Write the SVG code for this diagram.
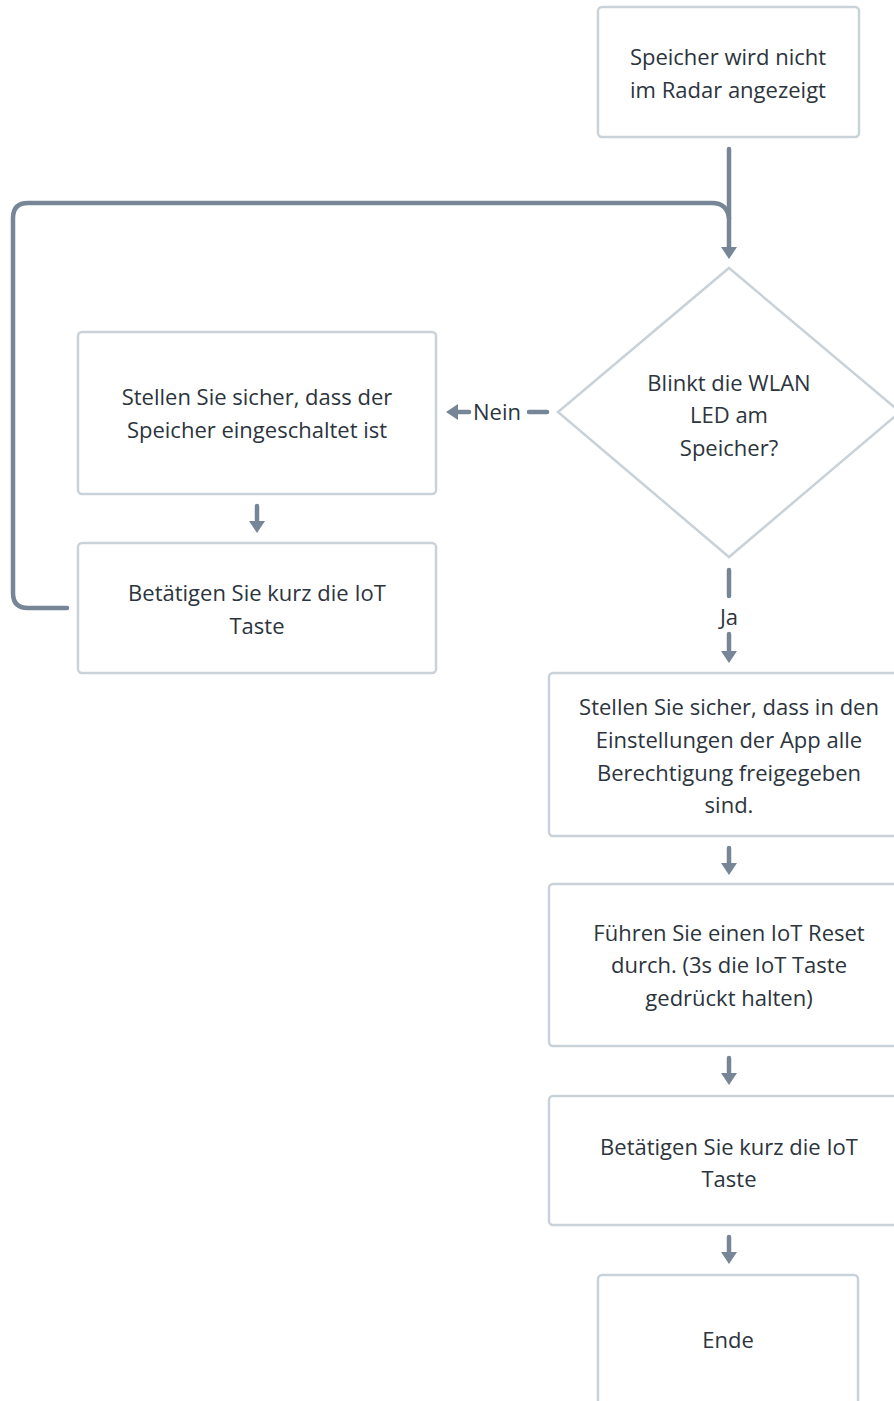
<svg xmlns="http://www.w3.org/2000/svg" width="894" height="1401" viewBox="0 0 894 1401">
<style>
.box{fill:#ffffff;stroke:#c9d1d9;stroke-width:2.5}
.t{font-family:"Open Sans","DejaVu Sans",sans-serif;font-size:22px;fill:#2c343d;text-anchor:middle}
.c{fill:none;stroke:#768696;stroke-width:4.5;stroke-linecap:round;stroke-linejoin:round}
</style>
<defs>
<marker id="ah" viewBox="0 -8 12 16" refX="0" refY="0" markerWidth="12" markerHeight="16" orient="auto" markerUnits="userSpaceOnUse">
<path d="M0,-8 L12,0 L0,8 z" fill="#768696"/>
</marker>
</defs>
<rect width="894" height="1401" fill="#ffffff"/>
<g id="connectors">
<path class="c" d="M729,149 L729,247" marker-end="url(#ah)"/>
<path class="c" d="M67,608 L28,608 Q13,608 13,593 L13,218 Q13,203 28,203 L712,203 Q727,203 729,218" />
<path class="c" d="M257,506 L257,521" marker-end="url(#ah)"/>
<path class="c" d="M547,412 L529,412"/>
<path class="c" d="M469,412 L458,412" marker-end="url(#ah)"/>
<text class="t" x="497" y="420">Nein</text>
<path class="c" d="M729,570 L729,596"/>
<text class="t" x="729" y="625">Ja</text>
<path class="c" d="M729,634 L729,651" marker-end="url(#ah)"/>
<path class="c" d="M729,848 L729,863" marker-end="url(#ah)"/>
<path class="c" d="M729,1058 L729,1073" marker-end="url(#ah)"/>
<path class="c" d="M729,1237 L729,1252" marker-end="url(#ah)"/>
</g>
<g id="start">
<rect class="box" x="598" y="7" width="261" height="130" rx="4"/>
<text class="t" x="728" y="65">Speicher wird nicht</text>
<text class="t" x="728" y="98">im Radar angezeigt</text>
</g>
<g id="decision">
<polygon class="box" points="729,268 900,412 729,557 558,412"/>
<text class="t" x="729" y="391">Blinkt die WLAN</text>
<text class="t" x="729" y="423">LED am</text>
<text class="t" x="729" y="456">Speicher?</text>
</g>
<g id="einschalten">
<rect class="box" x="78" y="332" width="358" height="162" rx="4"/>
<text class="t" x="257" y="405">Stellen Sie sicher, dass der</text>
<text class="t" x="257" y="438">Speicher eingeschaltet ist</text>
</g>
<g id="iot1">
<rect class="box" x="78" y="543" width="358" height="130" rx="4"/>
<text class="t" x="257" y="601">Betätigen Sie kurz die IoT</text>
<text class="t" x="257" y="634">Taste</text>
</g>
<g id="berechtigung">
<rect class="box" x="549" y="673" width="360" height="163" rx="4"/>
<text class="t" x="729" y="715">Stellen Sie sicher, dass in den</text>
<text class="t" x="729" y="748">Einstellungen der App alle</text>
<text class="t" x="729" y="781">Berechtigung freigegeben</text>
<text class="t" x="729" y="813">sind.</text>
</g>
<g id="reset">
<rect class="box" x="549" y="884" width="360" height="162" rx="4"/>
<text class="t" x="729" y="941">Führen Sie einen IoT Reset</text>
<text class="t" x="729" y="973">durch. (3s die IoT Taste</text>
<text class="t" x="729" y="1006">gedrückt halten)</text>
</g>
<g id="iot2">
<rect class="box" x="549" y="1096" width="360" height="129" rx="4"/>
<text class="t" x="729" y="1155">Betätigen Sie kurz die IoT</text>
<text class="t" x="729" y="1187">Taste</text>
</g>
<g id="ende">
<rect class="box" x="598" y="1275" width="260" height="140" rx="4"/>
<text class="t" x="728" y="1348">Ende</text>
</g>
</svg>
